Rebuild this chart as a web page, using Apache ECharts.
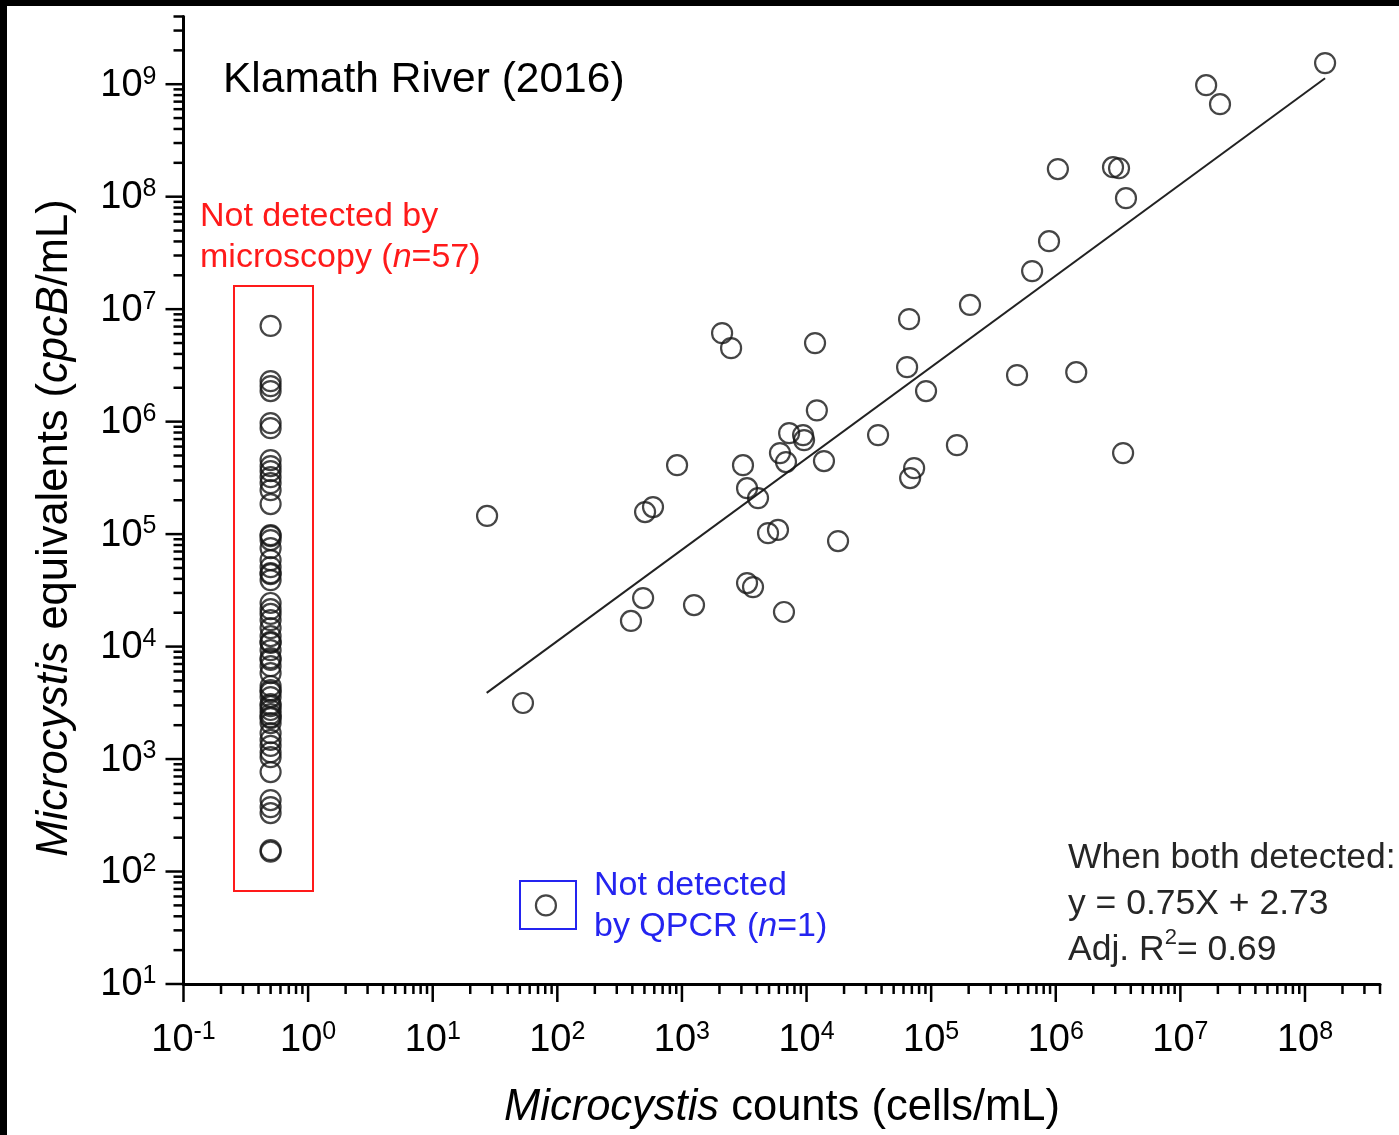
<!DOCTYPE html>
<html>
<head>
<meta charset="utf-8">
<title>Klamath River (2016)</title>
<script src="https://cdn.jsdelivr.net/npm/echarts@6/dist/echarts.min.js"></script>
<style>
  html, body { margin: 0; padding: 0; background: #000; }
  #chart { position: absolute; left: 7px; top: 6px; width: 1392px; height: 1129px; background: #fff; }
</style>
</head>
<body>
<div id="chart"></div>
<script>
// axis ranges (log10 decades)
const xMin = 0.1, xMax = 4e8
const yMin = 10, yMax = 4e9
const xDecades = [-1, 0, 1, 2, 3, 4, 5, 6, 7, 8]
const yDecades = [1, 2, 3, 4, 5, 6, 7, 8, 9]
const minorSteps = [2, 3, 4, 5, 6, 7, 8, 9]

// samples where microscopy found nothing (plotted at 0.5 cells/mL)
const leftColumnX = 0.5
const notDetectedMicroscopyY = [
  7.1e6, 2.29e6, 2.07e6, 1.87e6, 9.7e5, 8.75e5,
  4.55e5, 4.02e5, 3.63e5, 3.21e5, 2.84e5, 2.46e5, 1.85e5,
  9.8e4, 9.6e4, 8.85e4, 7.5e4, 5.87e4, 5.09e4, 4.5e4, 4.4e4, 3.9e4,
  2.44e4, 2.15e4, 1.95e4, 1.72e4, 1.46e4, 1.24e4, 1.1e4, 1.08e4,
  9.3e3, 7.9e3, 7.6e3, 6.7e3, 5.8e3, 4.46e3, 4.1e3, 3.94e3, 3.56e3, 3.08e3,
  2.95e3, 2.73e3, 2.51e3, 2.36e3, 2.31e3, 2.09e3,
  1.7e3, 1.48e3, 1.31e3, 1.15e3, 1.04e3, 766,
  432, 374, 331, 155, 150
]

// both detected
const countsX = [
  27.3, 53, 390, 488, 506, 586, 914, 1250, 2100, 2480,
  3090, 3330, 4080, 3330, 3720, 4910, 5900, 6120, 6840, 6590,
  7250, 9380, 9550, 11700, 12100, 13800, 17900, 37500, 64100, 66500,
  67800, 73000, 91000, 1.61e5, 2.05e5, 4.89e5, 6.46e5, 8.83e5, 1.04e6, 1.46e6,
  2.88e6, 3.22e6, 3.47e6, 3.66e6, 1.61e7, 2.08e7, 1.45e8
]
const equivalentsY = [
  1.45e5, 3.15e3, 1.69e4, 2.7e4, 1.57e5, 1.74e5, 4.1e5, 2.34e4, 6.12e6, 4.5e6,
  4.1e5, 2.56e5, 2.09e5, 3.67e4, 3.38e4, 1.02e5, 1.09e5, 5.25e5, 4.37e5, 2.03e4,
  7.9e5, 7.59e5, 6.85e5, 4.99e6, 1.26e6, 4.46e5, 8.67e4, 7.59e5, 3.05e6, 8.15e6,
  3.15e5, 3.86e5, 1.87e6, 6.18e5, 1.09e7, 2.59e6, 2.18e7, 4.02e7, 1.76e8, 2.75e6,
  1.83e8, 1.79e8, 5.25e5, 9.7e7, 9.8e8, 6.64e8, 1.54e9
]

// not detected by QPCR
const qpcrMissing = [[81, 50]]

// regression line as drawn
const fitLine = [[27.1, 3.88e3], [1.45e8, 1.13e9]]

const fontFamily = '"Liberation Sans", Arial, sans-serif'
const circleStyle = { color: 'rgba(0,0,0,0)', borderColor: '#161616', borderWidth: 2.2 }

const supRich = {
  a: { fontSize: 38, fontFamily: fontFamily, fill: '#000', lineHeight: 40, verticalAlign: 'bottom' },
  b: { fontSize: 25, fontFamily: fontFamily, fill: '#000', lineHeight: 15, verticalAlign: 'top' }
}

// build tick lists
const xTicks = []
xDecades.forEach(function (d) {
  xTicks.push([Math.pow(10, d), yMin, 1, d])
  minorSteps.forEach(function (m) {
    const v = m * Math.pow(10, d)
    if (v <= xMax * 1.0001) xTicks.push([v, yMin, 0, d])
  })
})
const yTicks = []
yDecades.forEach(function (d) {
  yTicks.push([xMin, Math.pow(10, d), 1, d])
  minorSteps.forEach(function (m) {
    const v = m * Math.pow(10, d)
    if (v <= yMax * 1.0001) yTicks.push([xMin, v, 0, d])
  })
})

function renderXTicks (params, api) {
  const p = api.coord([api.value(0), api.value(1)])
  const major = api.value(2) === 1
  const kids = [{
    type: 'line',
    shape: { x1: p[0], y1: p[1], x2: p[0], y2: p[1] + (major ? 18 : 10) },
    style: { stroke: '#000', lineWidth: 2.5 }
  }]
  if (major) {
    kids.push({
      type: 'text', x: p[0], y: p[1] + 56,
      style: { text: '{a|10}{b|' + api.value(3) + '}', rich: supRich, align: 'center', verticalAlign: 'middle' }
    })
  }
  return { type: 'group', children: kids }
}

function renderYTicks (params, api) {
  const p = api.coord([api.value(0), api.value(1)])
  const major = api.value(2) === 1
  const kids = [{
    type: 'line',
    shape: { x1: p[0], y1: p[1], x2: p[0] - (major ? 18 : 10), y2: p[1] },
    style: { stroke: '#000', lineWidth: 2.5 }
  }]
  if (major) {
    kids.push({
      type: 'text', x: p[0] - 27, y: p[1],
      style: { text: '{a|10}{b|' + api.value(3) + '}', rich: supRich, align: 'right', verticalAlign: 'middle' }
    })
  }
  return { type: 'group', children: kids }
}

const chart = echarts.init(document.getElementById('chart'))

const option = {
  animation: false,
  backgroundColor: '#fff',
  grid: { left: 176.5, right: 19, top: 10.5, bottom: 151 },
  xAxis: {
    type: 'log', logBase: 10, min: xMin, max: xMax,
    axisLine: { onZero: false, lineStyle: { color: '#000', width: 3 } },
    axisTick: { show: false }, axisLabel: { show: false }, splitLine: { show: false }
  },
  yAxis: {
    type: 'log', logBase: 10, min: yMin, max: yMax,
    axisLine: { onZero: false, lineStyle: { color: '#000', width: 3 } },
    axisTick: { show: false }, axisLabel: { show: false }, splitLine: { show: false }
  },
  series: [
    {
      type: 'custom', coordinateSystem: 'cartesian2d', renderItem: renderXTicks,
      data: xTicks, encode: { x: 0, y: 1 }, clip: false, silent: true, z: 5
    },
    {
      type: 'custom', coordinateSystem: 'cartesian2d', renderItem: renderYTicks,
      data: yTicks, encode: { x: 0, y: 1 }, clip: false, silent: true, z: 5
    },
    {
      name: 'fit', type: 'line', data: fitLine, showSymbol: false,
      lineStyle: { color: '#222', width: 2 }, silent: true, z: 2
    },
    {
      name: 'microscopy not detected', type: 'scatter', symbolSize: 20,
      data: notDetectedMicroscopyY.map(function (y) { return [leftColumnX, y] }),
      itemStyle: circleStyle, z: 3
    },
    {
      name: 'both detected', type: 'scatter', symbolSize: 20,
      data: countsX.map(function (x, i) { return [x, equivalentsY[i]] }),
      itemStyle: circleStyle, z: 3
    },
    {
      name: 'QPCR not detected', type: 'scatter', symbolSize: 20,
      data: qpcrMissing, itemStyle: circleStyle, z: 3
    }
  ],
  graphic: [
    {
      type: 'text', left: 216, top: 53,
      style: { text: 'Klamath River (2016)', font: '42.5px ' + fontFamily, fill: '#000' }
    },
    {
      type: 'text', x: 193, y: 190,
      style: {
        text: 'Not detected by\nmicroscopy ({i|n}=57)', fill: '#ff1a1a', font: '34px ' + fontFamily,
        lineHeight: 41, verticalAlign: 'top',
        rich: { i: { fontStyle: 'italic', fontSize: 34, fontFamily: fontFamily, fill: '#ff1a1a', lineHeight: 41 } }
      }
    },
    {
      type: 'rect', shape: { x: 227, y: 280, width: 79, height: 605 },
      style: { fill: 'none', stroke: '#ff1a1a', lineWidth: 2 }
    },
    {
      type: 'rect', shape: { x: 513, y: 875, width: 56, height: 48 },
      style: { fill: 'none', stroke: '#2424f0', lineWidth: 2 }
    },
    {
      type: 'text', x: 587, y: 859,
      style: {
        text: 'Not detected\nby QPCR ({i|n}=1)', fill: '#2424f0', font: '34px ' + fontFamily,
        lineHeight: 41, verticalAlign: 'top',
        rich: { i: { fontStyle: 'italic', fontSize: 34, fontFamily: fontFamily, fill: '#2424f0', lineHeight: 41 } }
      }
    },
    {
      type: 'text', x: 1061, y: 829,
      style: {
        text: 'When both detected:\ny = 0.75X + 2.73\nAdj. R{s|2}= 0.69', fill: '#262626', font: '35.5px ' + fontFamily,
        lineHeight: 46, verticalAlign: 'top',
        rich: { s: { fontSize: 22, fontFamily: fontFamily, fill: '#262626', lineHeight: 30, verticalAlign: 'top' } }
      }
    },
    {
      type: 'text', x: 775, y: 1102,
      style: {
        text: '{i|Microcystis} counts (cells/mL)', fill: '#000', font: '43.5px ' + fontFamily,
        align: 'center', verticalAlign: 'middle',
        rich: { i: { fontStyle: 'italic', fontSize: 43.5, fontFamily: fontFamily, fill: '#000' } }
      }
    },
    {
      type: 'text', x: 48, y: 522, rotation: Math.PI / 2,
      style: {
        text: '{i|Microcystis} equivalents ({i|cpcB}/mL)', fill: '#000', font: '43.5px ' + fontFamily,
        align: 'center', verticalAlign: 'middle',
        rich: { i: { fontStyle: 'italic', fontSize: 43.5, fontFamily: fontFamily, fill: '#000' } }
      }
    }
  ]
}

chart.setOption(option)
</script>
</body>
</html>
